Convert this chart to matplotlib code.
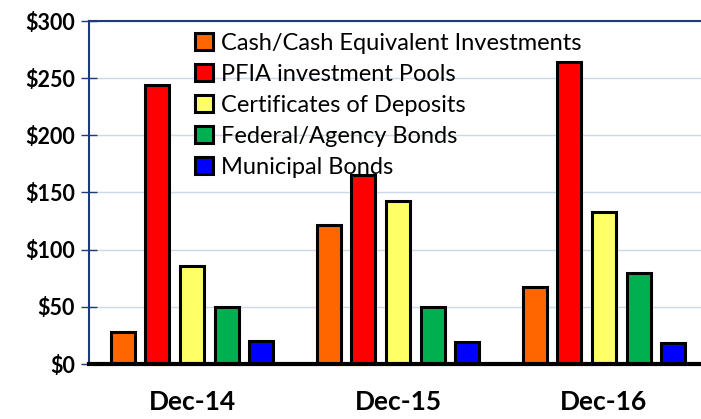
import matplotlib.pyplot as plt
import numpy as np

periods = ["Dec-14", "Dec-15", "Dec-16"]
series = [
    "Cash/Cash Equivalent Investments",
    "PFIA investment Pools",
    "Certificates of Deposits",
    "Federal/Agency Bonds",
    "Municipal Bonds",
]
cash = [28, 122, 67]
pfia = [244, 165, 264]
cds = [86, 143, 133]
federal = [50, 50, 80]
municipal = [20, 19, 18]
colors = ["#FF6600", "#FF0000", "#FFFF66", "#00B050", "#0000FF"]

values = [cash, pfia, cds, federal, municipal]
navy = "#1F3A7A"

fig = plt.figure(figsize=(7.01, 4.19), dpi=100)
ax = fig.add_axes([89 / 701, 55 / 419, 612 / 701, 343 / 419])

x = np.arange(len(periods))
step = 0.1675
width = 0.1165
for i, (name, vals, c) in enumerate(zip(series, values, colors)):
    ax.bar(x + (i - 2) * step, vals, width, color=c, edgecolor="black",
           linewidth=2.2, label=name, zorder=3)

ax.set_xlim(-0.5, -0.5 + 612 / 206)
ax.set_ylim(0, 300)
ax.set_yticks(range(0, 301, 50))
ax.set_yticklabels([f"${v}" for v in range(0, 301, 50)],
                   fontfamily="Lato", fontweight="bold", fontsize=15.5)
ax.set_xticks(x)
ax.set_xticklabels(periods, fontfamily="Lato", fontweight="bold", fontsize=19)

ax.grid(axis="y", color="#C9D9EA", linewidth=1, zorder=0)
ax.tick_params(axis="y", direction="inout", length=12, width=1, color=navy, pad=4)
ax.tick_params(axis="x", length=0, pad=19)

ax.spines["top"].set_color(navy)
ax.spines["top"].set_linewidth(1.5)
ax.spines["left"].set_color(navy)
ax.spines["left"].set_linewidth(1.5)
ax.spines["right"].set_visible(False)
ax.spines["bottom"].set_color("black")
ax.spines["bottom"].set_linewidth(3)
ax.spines["bottom"].set_zorder(4)

leg = ax.legend(loc="upper left", bbox_to_anchor=(195 / 701, 1 - 33 / 419),
                bbox_transform=fig.transFigure, frameon=False,
                prop={"family": "Lato", "size": 17}, handlelength=0.75,
                handleheight=0.75, handletextpad=0.35, labelspacing=0.42,
                borderpad=0, borderaxespad=0)

fig.savefig("out.png", dpi=100)
